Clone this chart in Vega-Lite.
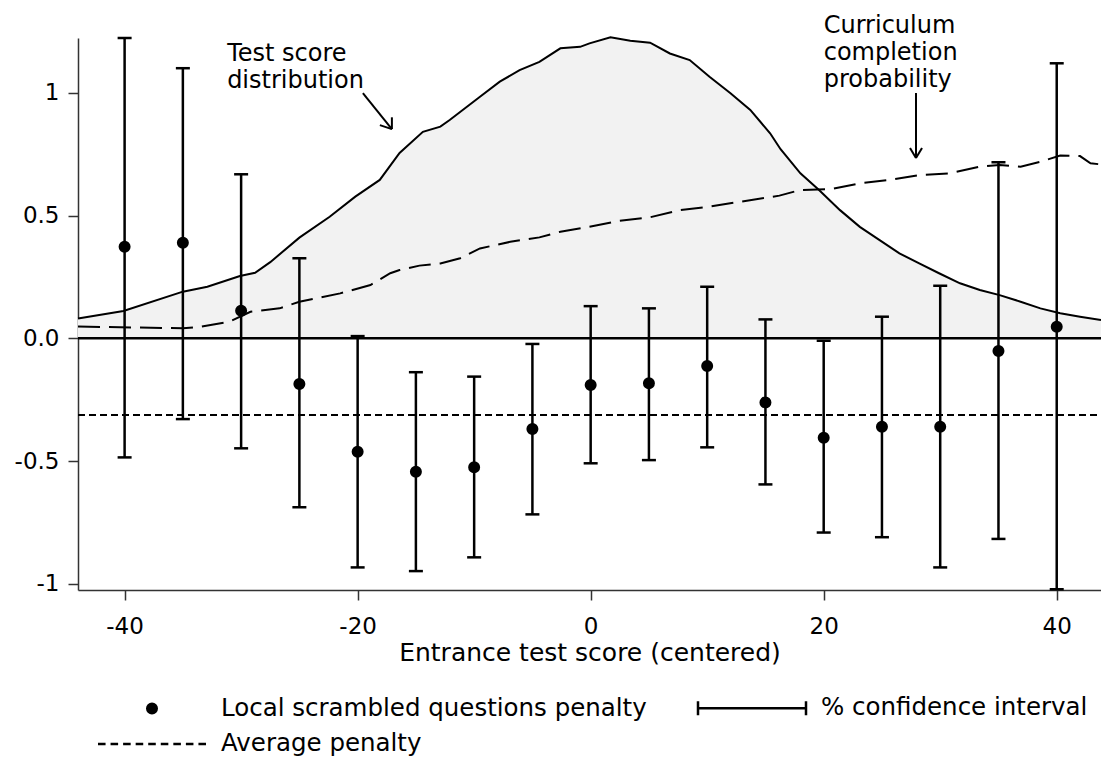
{
  "$schema": "https://vega.github.io/schema/vega-lite/v6.json",
  "width": 1023,
  "height": 552,
  "autosize": {"type": "none"},
  "padding": {"left": 78, "top": 38, "right": 0, "bottom": 168},
  "background": "white",
  "config": {
    "font": "DejaVu Sans",
    "view": {"stroke": null},
    "axis": {
      "grid": false,
      "labelFont": "DejaVu Sans",
      "labelFontSize": 23,
      "labelColor": "black",
      "domainColor": "#333333",
      "tickColor": "#333333",
      "domainWidth": 1.5,
      "tickWidth": 1.5,
      "tickSize": 10,
      "titleFont": "DejaVu Sans",
      "titleFontSize": 25,
      "titleFontWeight": "normal",
      "titleColor": "black"
    }
  },
  "datasets": {
    "density": [
      {"x": -44.0, "d": 0.081}, {"x": -40.1, "d": 0.111}, {"x": -35.0, "d": 0.190}, {"x": -32.9, "d": 0.210},
      {"x": -30.1, "d": 0.254}, {"x": -28.8, "d": 0.267}, {"x": -27.5, "d": 0.310}, {"x": -25.0, "d": 0.410},
      {"x": -22.4, "d": 0.495}, {"x": -20.2, "d": 0.577}, {"x": -18.1, "d": 0.645}, {"x": -16.4, "d": 0.755},
      {"x": -14.4, "d": 0.841}, {"x": -12.9, "d": 0.862}, {"x": -12.1, "d": 0.889}, {"x": -9.5, "d": 0.984},
      {"x": -7.8, "d": 1.045}, {"x": -6.1, "d": 1.092}, {"x": -4.4, "d": 1.126}, {"x": -2.6, "d": 1.181},
      {"x": -0.9, "d": 1.187}, {"x": -0.1, "d": 1.201}, {"x": 1.7, "d": 1.226}, {"x": 3.4, "d": 1.212},
      {"x": 5.1, "d": 1.204}, {"x": 6.8, "d": 1.160}, {"x": 8.5, "d": 1.133}, {"x": 10.2, "d": 1.065},
      {"x": 12.0, "d": 0.998}, {"x": 13.7, "d": 0.930}, {"x": 15.4, "d": 0.835}, {"x": 16.3, "d": 0.770},
      {"x": 18.0, "d": 0.672}, {"x": 19.6, "d": 0.604}, {"x": 21.4, "d": 0.522}, {"x": 23.1, "d": 0.454},
      {"x": 24.8, "d": 0.400}, {"x": 26.5, "d": 0.346}, {"x": 28.2, "d": 0.305}, {"x": 29.9, "d": 0.265},
      {"x": 31.7, "d": 0.224}, {"x": 33.4, "d": 0.197}, {"x": 35.1, "d": 0.176}, {"x": 36.9, "d": 0.149},
      {"x": 38.6, "d": 0.122}, {"x": 40.3, "d": 0.102}, {"x": 42.0, "d": 0.088}, {"x": 43.8, "d": 0.075}
    ],
    "completion": [
      {"x": -44.0, "p": 0.048}, {"x": -35.0, "p": 0.041}, {"x": -33.5, "p": 0.047}, {"x": -31.0, "p": 0.068},
      {"x": -29.2, "p": 0.108}, {"x": -26.7, "p": 0.122}, {"x": -25.0, "p": 0.149}, {"x": -21.5, "p": 0.183},
      {"x": -18.9, "p": 0.217}, {"x": -17.2, "p": 0.265}, {"x": -16.4, "p": 0.278}, {"x": -14.7, "p": 0.296},
      {"x": -12.9, "p": 0.305}, {"x": -11.2, "p": 0.326}, {"x": -9.5, "p": 0.366}, {"x": -6.9, "p": 0.393},
      {"x": -4.4, "p": 0.411}, {"x": -2.6, "p": 0.434}, {"x": -0.1, "p": 0.454}, {"x": 2.5, "p": 0.479},
      {"x": 5.1, "p": 0.493}, {"x": 7.7, "p": 0.522}, {"x": 10.2, "p": 0.536}, {"x": 12.8, "p": 0.556},
      {"x": 16.2, "p": 0.581}, {"x": 18.0, "p": 0.604}, {"x": 20.5, "p": 0.607}, {"x": 23.1, "p": 0.631},
      {"x": 25.7, "p": 0.645}, {"x": 28.3, "p": 0.665}, {"x": 30.8, "p": 0.672}, {"x": 33.4, "p": 0.699},
      {"x": 35.1, "p": 0.706}, {"x": 36.9, "p": 0.699}, {"x": 38.6, "p": 0.719}, {"x": 40.3, "p": 0.744},
      {"x": 42.0, "p": 0.742}, {"x": 42.9, "p": 0.713}, {"x": 43.8, "p": 0.708}
    ],
    "estimates": [
      {"x": -40, "est": 0.373, "lo": -0.485, "hi": 1.223, "series": "Local scrambled questions penalty"},
      {"x": -35, "est": 0.389, "lo": -0.329, "hi": 1.100, "series": "Local scrambled questions penalty"},
      {"x": -30, "est": 0.112, "lo": -0.448, "hi": 0.668, "series": "Local scrambled questions penalty"},
      {"x": -25, "est": -0.186, "lo": -0.688, "hi": 0.326, "series": "Local scrambled questions penalty"},
      {"x": -20, "est": -0.462, "lo": -0.933, "hi": 0.009, "series": "Local scrambled questions penalty"},
      {"x": -15, "est": -0.543, "lo": -0.948, "hi": -0.138, "series": "Local scrambled questions penalty"},
      {"x": -10, "est": -0.525, "lo": -0.892, "hi": -0.156, "series": "Local scrambled questions penalty"},
      {"x": -5, "est": -0.369, "lo": -0.717, "hi": -0.023, "series": "Local scrambled questions penalty"},
      {"x": 0, "est": -0.190, "lo": -0.509, "hi": 0.131, "series": "Local scrambled questions penalty"},
      {"x": 5, "est": -0.183, "lo": -0.496, "hi": 0.122, "series": "Local scrambled questions penalty"},
      {"x": 10, "est": -0.113, "lo": -0.444, "hi": 0.210, "series": "Local scrambled questions penalty"},
      {"x": 15, "est": -0.261, "lo": -0.595, "hi": 0.077, "series": "Local scrambled questions penalty"},
      {"x": 20, "est": -0.405, "lo": -0.791, "hi": -0.010, "series": "Local scrambled questions penalty"},
      {"x": 25, "est": -0.360, "lo": -0.810, "hi": 0.088, "series": "Local scrambled questions penalty"},
      {"x": 30, "est": -0.360, "lo": -0.933, "hi": 0.214, "series": "Local scrambled questions penalty"},
      {"x": 35, "est": -0.052, "lo": -0.817, "hi": 0.717, "series": "Local scrambled questions penalty"},
      {"x": 40, "est": 0.047, "lo": -1.022, "hi": 1.120, "series": "Local scrambled questions penalty"}
    ],
    "arrows": [
      {"x": -19.55, "y": 0.999, "xe": -17.06, "ye": 0.852},
      {"x": -18.09, "y": 0.868, "xe": -17.06, "ye": 0.852},
      {"x": -17.06, "y": 0.900, "xe": -17.06, "ye": 0.852},
      {"x": 27.92, "y": 0.999, "xe": 27.92, "ye": 0.734},
      {"x": 27.41, "y": 0.775, "xe": 27.92, "ye": 0.734},
      {"x": 28.44, "y": 0.775, "xe": 27.92, "ye": 0.734}
    ],
    "notes": [
      {"x": -31.2, "y": 1.129, "label": "Test score\ndistribution"},
      {"x": 20.0, "y": 1.243, "label": "Curriculum\ncompletion\nprobability"}
    ],
    "average": [{"avg": -0.312, "zero": 0}]
  },
  "encoding": {
    "x": {
      "field": "x",
      "type": "quantitative",
      "scale": {"domain": [-44, 43.8], "nice": false, "zero": false},
      "axis": {
        "values": [-40, -20, 0, 20, 40],
        "labelExpr": "(datum.value < 0 ? '-' : '') + format(abs(datum.value), 'd')",
        "title": "Entrance test score (centered)",
        "titlePadding": 2,
        "labelPadding": 15,
        "labelFlush": false
      }
    }
  },
  "layer": [
    {
      "data": {"name": "density"},
      "mark": {"type": "area", "color": "#f2f2f2", "opacity": 1},
      "encoding": {
        "y": {
          "field": "d",
          "type": "quantitative",
          "scale": {"domain": [-1.025, 1.223], "nice": false, "zero": false},
          "axis": {"values": [-1, -0.5, 0, 0.5, 1], "labelExpr": "datum.value == 0 ? '0.0' : (datum.value < 0 ? '-' : '') + format(abs(datum.value), '')", "title": null, "labelPadding": 9}
        },
        "y2": {"datum": 0}
      }
    },
    {
      "data": {"name": "density"},
      "mark": {"type": "line", "color": "black", "strokeWidth": 2},
      "encoding": {
        "y": {"field": "d", "type": "quantitative", "scale": {"domain": [-1.025, 1.223], "nice": false, "zero": false},
          "axis": {"values": [-1, -0.5, 0, 0.5, 1], "labelExpr": "datum.value == 0 ? '0.0' : (datum.value < 0 ? '-' : '') + format(abs(datum.value), '')", "title": null, "labelPadding": 9}}
      }
    },
    {
      "data": {"name": "completion"},
      "mark": {"type": "line", "color": "black", "strokeWidth": 2, "strokeDash": [22, 9]},
      "encoding": {
        "y": {"field": "p", "type": "quantitative", "scale": {"domain": [-1.025, 1.223], "nice": false, "zero": false},
          "axis": {"values": [-1, -0.5, 0, 0.5, 1], "labelExpr": "datum.value == 0 ? '0.0' : (datum.value < 0 ? '-' : '') + format(abs(datum.value), '')", "title": null, "labelPadding": 9}}
      }
    },
    {
      "data": {"name": "average"},
      "mark": {"type": "rule", "color": "black", "strokeWidth": 2.5},
      "encoding": {
        "x": {"value": 0},
        "x2": {"value": "width"},
        "y": {"field": "zero", "type": "quantitative", "scale": {"domain": [-1.025, 1.223], "nice": false, "zero": false},
          "axis": {"values": [-1, -0.5, 0, 0.5, 1], "labelExpr": "datum.value == 0 ? '0.0' : (datum.value < 0 ? '-' : '') + format(abs(datum.value), '')", "title": null, "labelPadding": 9}}
      }
    },
    {
      "data": {"name": "average"},
      "mark": {"type": "rule", "color": "black", "strokeWidth": 2, "strokeDash": [7, 4]},
      "encoding": {
        "x": {"value": 0},
        "x2": {"value": "width"},
        "y": {"field": "avg", "type": "quantitative", "scale": {"domain": [-1.025, 1.223], "nice": false, "zero": false},
          "axis": {"values": [-1, -0.5, 0, 0.5, 1], "labelExpr": "datum.value == 0 ? '0.0' : (datum.value < 0 ? '-' : '') + format(abs(datum.value), '')", "title": null, "labelPadding": 9}}
      }
    },
    {
      "data": {"name": "estimates"},
      "mark": {"type": "rule", "color": "black", "strokeWidth": 2.5},
      "encoding": {
        "y": {"field": "lo", "type": "quantitative", "scale": {"domain": [-1.025, 1.223], "nice": false, "zero": false},
          "axis": {"values": [-1, -0.5, 0, 0.5, 1], "labelExpr": "datum.value == 0 ? '0.0' : (datum.value < 0 ? '-' : '') + format(abs(datum.value), '')", "title": null, "labelPadding": 9}},
        "y2": {"field": "hi"}
      }
    },
    {
      "data": {"name": "estimates"},
      "mark": {"type": "tick", "color": "black", "orient": "horizontal", "size": 14, "thickness": 2.5, "opacity": 1},
      "encoding": {
        "y": {"field": "lo", "type": "quantitative", "scale": {"domain": [-1.025, 1.223], "nice": false, "zero": false},
          "axis": {"values": [-1, -0.5, 0, 0.5, 1], "labelExpr": "datum.value == 0 ? '0.0' : (datum.value < 0 ? '-' : '') + format(abs(datum.value), '')", "title": null, "labelPadding": 9}}
      }
    },
    {
      "data": {"name": "estimates"},
      "mark": {"type": "tick", "color": "black", "orient": "horizontal", "size": 14, "thickness": 2.5, "opacity": 1},
      "encoding": {
        "y": {"field": "hi", "type": "quantitative", "scale": {"domain": [-1.025, 1.223], "nice": false, "zero": false},
          "axis": {"values": [-1, -0.5, 0, 0.5, 1], "labelExpr": "datum.value == 0 ? '0.0' : (datum.value < 0 ? '-' : '') + format(abs(datum.value), '')", "title": null, "labelPadding": 9}}
      }
    },
    {
      "data": {"name": "estimates"},
      "mark": {"type": "point", "filled": false, "fill": "black", "color": "black", "strokeWidth": 2.5, "size": 576, "opacity": 1},
      "encoding": {
        "y": {"field": "est", "type": "quantitative", "scale": {"domain": [-1.025, 1.223], "nice": false, "zero": false},
          "axis": {"values": [-1, -0.5, 0, 0.5, 1], "labelExpr": "datum.value == 0 ? '0.0' : (datum.value < 0 ? '-' : '') + format(abs(datum.value), '')", "title": null, "labelPadding": 9}},
        "shape": {
          "field": "series",
          "type": "nominal",
          "scale": {
            "domain": ["Local scrambled questions penalty", "% confidence interval", "Average penalty"],
            "range": [
              "M-0.396,0A0.396,0.396,0,1,0,0.396,0A0.396,0.396,0,1,0,-0.396,0Z",
              "M-4.5,0H4.5M-4.5,-0.58V0.58M4.5,-0.58V0.58",
              "M-4.5,0H-3.87M-3.454,0H-2.824M-2.4075,0H-1.7775M-1.361,0H-0.731M-0.315,0H0.315M0.731,0H1.361M1.7775,0H2.4075M2.824,0H3.454M3.87,0H4.5"
            ]
          },
          "legend": {
            "title": null,
            "orient": "none",
            "legendX": 110,
            "legendY": 656.5,
            "direction": "horizontal",
            "columns": 2,
            "columnPadding": 46,
            "rowPadding": 10,
            "padding": 0,
            "symbolSize": 576,
            "symbolOffset": -49.5,
            "symbolStrokeWidth": 2.5,
            "symbolOpacity": 1,
            "labelFont": "DejaVu Sans",
            "labelFontSize": 24.5,
            "labelColor": "black",
            "labelLimit": 1000,
            "labelOffset": 55.5
          }
        }
      }
    },
    {
      "data": {"name": "arrows"},
      "mark": {"type": "rule", "color": "black", "strokeWidth": 2},
      "encoding": {
        "y": {"field": "y", "type": "quantitative", "scale": {"domain": [-1.025, 1.223], "nice": false, "zero": false},
          "axis": {"values": [-1, -0.5, 0, 0.5, 1], "labelExpr": "datum.value == 0 ? '0.0' : (datum.value < 0 ? '-' : '') + format(abs(datum.value), '')", "title": null, "labelPadding": 9}},
        "x2": {"field": "xe"},
        "y2": {"field": "ye"}
      }
    },
    {
      "data": {"name": "notes"},
      "mark": {"type": "text", "align": "left", "baseline": "alphabetic", "font": "DejaVu Sans", "fontSize": 24, "color": "black", "lineBreak": "\n", "lineHeight": 27},
      "encoding": {
        "y": {"field": "y", "type": "quantitative", "scale": {"domain": [-1.025, 1.223], "nice": false, "zero": false},
          "axis": {"values": [-1, -0.5, 0, 0.5, 1], "labelExpr": "datum.value == 0 ? '0.0' : (datum.value < 0 ? '-' : '') + format(abs(datum.value), '')", "title": null, "labelPadding": 9}},
        "text": {"field": "label"}
      }
    }
  ]
}
